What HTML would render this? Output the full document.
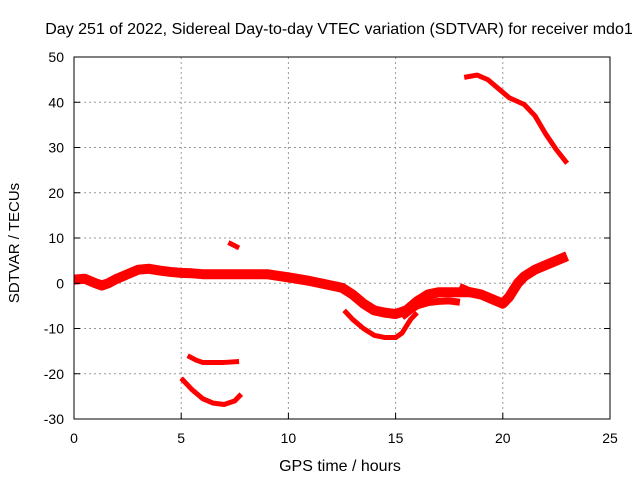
<!DOCTYPE html>
<html><head><meta charset="utf-8"><style>body{margin:0;background:#fff}svg{display:block;font-family:"Liberation Sans",sans-serif;font-size:14px}</style></head>
<body>
<svg id="chart" width="640" height="480" viewBox="0 0 640 480">
<text x="339" y="34" text-anchor="middle" style="font-size:16px">Day 251 of 2022, Sidereal Day-to-day VTEC variation (SDTVAR) for receiver mdo1</text>
<g id="grid"></g>
<g id="series"></g>
<rect x="74" y="57" width="536" height="362" fill="none" stroke="#000" stroke-width="1"/>
<g id="ticks"></g>
<text x="340" y="471" text-anchor="middle" style="font-size:16px">GPS time / hours</text>
<text x="19" y="243" text-anchor="middle" transform="rotate(-90 19 243)" style="font-size:15px">SDTVAR / TECUs</text>
</svg>
<script>
const xTicks=[0,5,10,15,20,25];
const yTicks=[-30,-20,-10,0,10,20,30,40,50];
const mainBand=[[0,0.8],[0.5,1],[1,0],[1.3,-0.5],[1.6,0],[2,1],[2.5,2],[3,3],[3.5,3.2],[4,2.8],[4.5,2.5],[5,2.3],[5.5,2.2],[6,2],[7,2],[8,2],[9,2],[10,1.3],[11,0.5],[12,-0.5],[12.5,-1],[13,-2.5],[13.5,-4.5],[14,-6],[14.5,-6.5],[15,-6.8],[15.5,-6],[16,-4],[16.5,-2.5],[17,-2],[17.5,-2],[18,-2],[18.5,-2],[19,-2.5],[19.5,-3.5],[20,-4.5],[20.3,-3],[20.7,0],[21,1.5],[21.5,3],[22,4],[22.5,5],[23,6]];
const branchBand=[[15.3,-7.5],[15.7,-6],[16,-5],[16.5,-4.3],[17,-4],[17.5,-3.9],[18,-4.2]];
const branchSmall=[[18,-0.5],[18.5,-1.5]];
const lowerArc=[[12.6,-6],[13,-8],[13.5,-10],[14,-11.5],[14.5,-12],[15,-12],[15.3,-11],[15.7,-8],[16,-6.5]];
const upperArc=[[18.2,45.5],[18.8,46],[19.3,45],[19.8,43],[20.3,41],[21,39.5],[21.5,37],[22,33],[22.5,29.5],[23,26.5]];
const smallSeg=[[7.2,9],[7.7,7.8]];
const arc17=[[5.3,-16],[5.7,-17],[6,-17.5],[7,-17.5],[7.7,-17.3]];
const arc25=[[5,-21],[5.5,-23.5],[6,-25.5],[6.5,-26.5],[7,-26.8],[7.5,-26],[7.8,-24.5]];
const X=v=>74+v*536/25, Y=v=>57+(50-v)*362/80;
const NS="http://www.w3.org/2000/svg";
const g=document.getElementById('grid'),t=document.getElementById('ticks'),s=document.getElementById('series');
function mk(tag,a,p){const e=document.createElementNS(NS,tag);for(const k in a)e.setAttribute(k,a[k]);p.appendChild(e);return e;}
xTicks.forEach(v=>{
  if(v>0&&v<25){const l=mk('line',{x1:X(v),x2:X(v),y1:57,y2:419,stroke:'#999','stroke-dasharray':'2,3'},g);
  
  }
  const m=mk('line',{x1:X(v),x2:X(v),y1:419,y2:413,stroke:'#000'},t);
  
  
  const tx=mk('text',{x:X(v),y:443,'text-anchor':'middle'},t);tx.textContent=v;
  
  
});
yTicks.forEach(v=>{
  if(v>-30&&v<50){const l=mk('line',{x1:74,x2:610,y1:Y(v),y2:Y(v),stroke:'#999','stroke-dasharray':'2,3'},g);
  
  }
  const m=mk('line',{x1:74,x2:80,y1:Y(v),y2:Y(v),stroke:'#000'},t);
  
  
  const m2=mk('line',{x1:604,x2:610,y1:Y(v),y2:Y(v),stroke:'#000'},t);
  
  
  const tx=mk('text',{x:64,y:Y(v)+5,'text-anchor':'end'},t);tx.textContent=v;
  
  
});
[[mainBand,10,'main-band'],[branchBand,7,'branch-band'],[branchSmall,5,'branch-small'],[lowerArc,5,'lower-arc'],[upperArc,5,'upper-arc'],[smallSeg,5,'small-segment'],[arc17,5,'arc-minus17'],[arc25,5,'arc-minus25']].forEach(([d,w,n])=>{
  const p=mk('polyline',{points:d.map(q=>X(q[0])+','+Y(q[1])).join(' '),fill:'none',stroke:'#f00','stroke-width':w,'stroke-linejoin':'round'},s);
  
  
});
</script>
</body></html>
